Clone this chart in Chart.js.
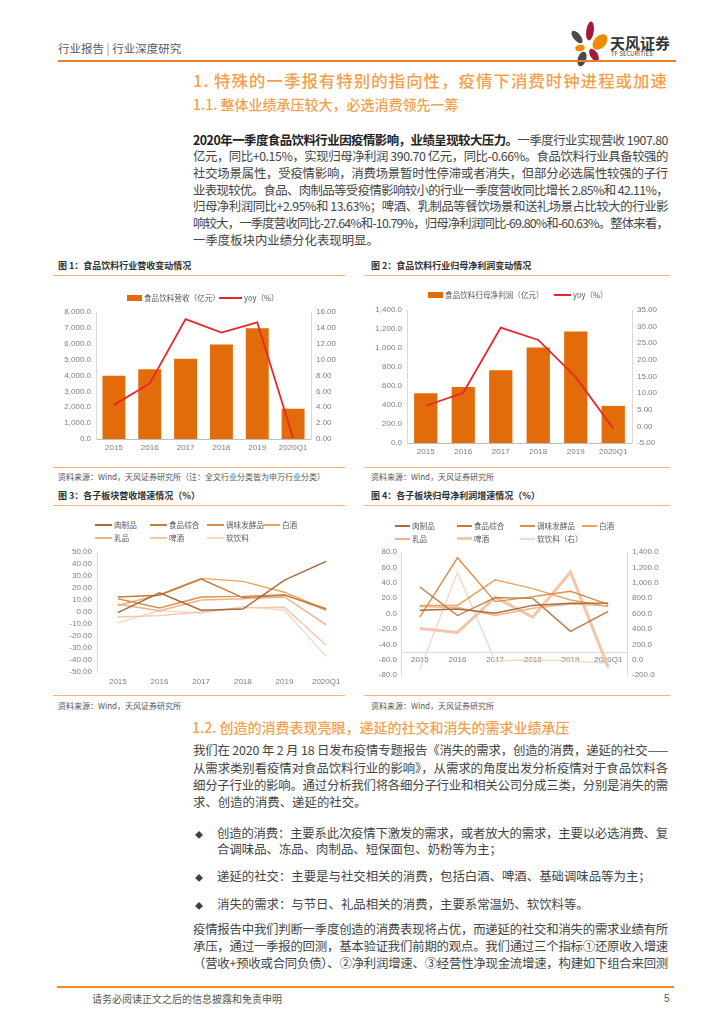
<!DOCTYPE html>
<html>
<head>
<meta charset="utf-8">
<script src="https://cdn.jsdelivr.net/npm/chart.js@4.4.0/dist/chart.umd.min.js"></script>
<style>
  body { margin: 0; background: #fff; }
  #page { position: relative; width: 724px; height: 1024px; overflow: hidden; background: #fff;
    font-family: "Noto Sans CJK SC", "Noto Sans", sans-serif; color: #454545; }
  .t { position: absolute; white-space: nowrap; line-height: 1; }
  .hr { position: absolute; height: 0; }
  .para { position: absolute; font-size: 12.4px; }
  .para div { white-space: nowrap; }
  .h { color: #f4a04e; font-weight: 500; }
  .ftitle { font-size: 9px; font-weight: 700; color: #333; }
  .src { font-size: 8px; color: #555; }
  .bul { position: absolute; font-size: 8px; color: #404040; }
  canvas { position: absolute; }
  .lg { position: absolute; font-size: 7.6px; color: #595959; white-space: nowrap; line-height: 1; }
</style>
</head>
<body>
<div id="page">
  <!-- header -->
  <div class="t" style="left:58px;top:43px;font-size:11.5px;color:#5a5a5a;">行业报告 <span style="color:#999">|</span> 行业深度研究</div>
  <svg style="position:absolute;left:560px;top:15px" width="52" height="56" viewBox="560 15 52 56">
    <ellipse cx="590" cy="31" rx="3.8" ry="9.5" fill="#a3193b" transform="rotate(8 590 31)"/>
    <ellipse cx="577" cy="37" rx="3.6" ry="7.5" fill="#4a4a4a" transform="rotate(-40 577 37)"/>
    <ellipse cx="600" cy="42" rx="6" ry="9" fill="#f08a00" transform="rotate(42 600 42)"/>
    <ellipse cx="580" cy="48" rx="4.8" ry="3.2" fill="#f08a00" transform="rotate(-12 580 48)"/>
    <ellipse cx="582" cy="59" rx="4.2" ry="7.5" fill="#4a4a4a" transform="rotate(18 582 59)"/>
    <ellipse cx="594" cy="55" rx="3.7" ry="7" fill="#a3193b" transform="rotate(-32 594 55)"/>
  </svg>
  <div class="t" style="left:610px;top:35px;font-size:15px;font-weight:700;color:#333;">天风证券</div>
  <div class="t" style="left:611px;top:52px;font-size:5.5px;color:#333;letter-spacing:0.3px;">TF SECURITIES</div>
  <div class="hr" style="left:58px;top:60px;width:618px;border-top:2px solid #eb7f22;"></div>

  <!-- headings -->
  <div class="para h" style="left:193px;top:71px;width:475px;font-size:16.4px;line-height:18px;">
    <div class="jl"><span>1. 特殊的一季报有特别的指向性，疫情下消费时钟进程或加速</span></div>
  </div>
  <div class="t h" style="left:193px;top:97px;font-size:14px;">1.1. 整体业绩承压较大，必选消费领先一筹</div>

  <div class="para" style="left:193px;top:131.6px;width:475px;line-height:16.7px;">
    <div class="jl"><span><b style="color:#222">2020年一季度食品饮料行业因疫情影响，业绩呈现较大压力。</b>一季度行业实现营收 1907.80</span></div>
    <div class="jl"><span>亿元，同比+0.15%，实现归母净利润 390.70 亿元，同比-0.66%。食品饮料行业具备较强的</span></div>
    <div class="jl"><span>社交场景属性，受疫情影响，消费场景暂时性停滞或者消失，但部分必选属性较强的子行</span></div>
    <div class="jl"><span>业表现较优。食品、肉制品等受疫情影响较小的行业一季度营收同比增长 2.85%和 42.11%，</span></div>
    <div class="jl"><span>归母净利润同比+2.95%和 13.63%；啤酒、乳制品等餐饮场景和送礼场景占比较大的行业影</span></div>
    <div class="jl"><span>响较大，一季度营收同比-27.64%和-10.79%，归母净利润同比-69.80%和-60.63%。整体来看，</span></div>
    <div><span>一季度板块内业绩分化表现明显。</span></div>
  </div>

  <!-- figure 1 / 2 frames -->
  <div class="t ftitle" style="left:58px;top:261px;">图 1：食品饮料行业营收变动情况</div>
  <div class="t ftitle" style="left:371px;top:261px;">图 2：食品饮料行业归母净利润变动情况</div>
  <div class="hr" style="left:53px;top:275px;width:292px;border-top:1.5px solid #f6b27c;"></div>
  <div class="hr" style="left:364px;top:275px;width:306px;border-top:1.5px solid #f6b27c;"></div>
  <div class="hr" style="left:53px;top:467px;width:292px;border-top:1.5px solid #f6b27c;"></div>
  <div class="hr" style="left:364px;top:467px;width:306px;border-top:1.5px solid #f6b27c;"></div>
  <div class="t src" style="left:58px;top:473px;">资料来源：Wind，天风证券研究所（注：全文行业分类皆为申万行业分类）</div>
  <div class="t src" style="left:371px;top:473px;">资料来源：Wind，天风证券研究所</div>

  <!-- figure 3 / 4 frames -->
  <div class="t ftitle" style="left:58px;top:491px;">图 3：各子板块营收增速情况（%）</div>
  <div class="t ftitle" style="left:371px;top:491px;">图 4：各子板块归母净利润增速情况（%）</div>
  <div class="hr" style="left:53px;top:505px;width:292px;border-top:1.5px solid #f6b27c;"></div>
  <div class="hr" style="left:364px;top:505px;width:306px;border-top:1.5px solid #f6b27c;"></div>
  <div class="hr" style="left:53px;top:695px;width:292px;border-top:1.5px solid #f6b27c;"></div>
  <div class="hr" style="left:364px;top:695px;width:306px;border-top:1.5px solid #f6b27c;"></div>
  <div class="t src" style="left:58px;top:702px;">资料来源：Wind，天风证券研究所</div>
  <div class="t src" style="left:371px;top:702px;">资料来源：Wind，天风证券研究所</div>

  <canvas id="c1" width="315" height="155" style="left:40px;top:302px"></canvas>
  <canvas id="c2" width="315" height="161" style="left:357px;top:300px"></canvas>
  <canvas id="c3" width="315" height="148" style="left:40px;top:542px"></canvas>
  <canvas id="c4" width="312" height="143" style="left:357px;top:542px"></canvas>
  <div id="legends"></div>

  <!-- section 1.2 -->
  <div class="t h" style="left:192px;top:720px;font-size:14px;">1.2. 创造的消费表现亮眼，递延的社交和消失的需求业绩承压</div>
  <div class="para" style="left:193px;top:742.4px;width:475px;line-height:17.3px;">
    <div class="jl"><span>我们在 2020 年 2 月 18 日发布疫情专题报告《消失的需求，创造的消费，递延的社交——</span></div>
    <div class="jl"><span>从需求类别看疫情对食品饮料行业的影响》，从需求的角度出发分析疫情对于食品饮料各</span></div>
    <div class="jl"><span>细分子行业的影响。通过分析我们将各细分子行业和相关公司分成三类，分别是消失的需</span></div>
    <div><span>求、创造的消费、递延的社交。</span></div>
  </div>

  <div class="bul" style="left:195px;top:829px;">◆</div>
  <div class="para" style="left:217px;top:824.8px;width:451px;line-height:16.4px;">
    <div class="jl"><span>创造的消费：主要系此次疫情下激发的需求，或者放大的需求，主要以必选消费、复</span></div>
    <div><span>合调味品、冻品、肉制品、短保面包、奶粉等为主；</span></div>
  </div>
  <div class="bul" style="left:195px;top:872px;">◆</div>
  <div class="para" style="left:217px;top:868px;width:451px;line-height:16.4px;">
    <div><span>递延的社交：主要是与社交相关的消费，包括白酒、啤酒、基础调味品等为主；</span></div>
  </div>
  <div class="bul" style="left:195px;top:900px;">◆</div>
  <div class="para" style="left:217px;top:896px;width:451px;line-height:16.4px;">
    <div><span>消失的需求：与节日、礼品相关的消费，主要系常温奶、软饮料等。</span></div>
  </div>

  <div class="para" style="left:193px;top:920.5px;width:475px;line-height:17px;">
    <div class="jl"><span>疫情报告中我们判断一季度创造的消费表现将占优，而递延的社交和消失的需求业绩有所</span></div>
    <div class="jl"><span>承压，通过一季报的回测，基本验证我们前期的观点。我们通过三个指标①还原收入增速</span></div>
    <div class="jl"><span>（营收+预收或合同负债）、②净利润增速、③经营性净现金流增速，构建如下组合来回测</span></div>
  </div>

  <!-- footer -->
  <div class="hr" style="left:57px;top:986px;width:617px;border-top:2px solid #eb8a22;"></div>
  <div class="t" style="left:92px;top:994px;font-size:10px;color:#555;">请务必阅读正文之后的信息披露和免责申明</div>
  <div class="t" style="left:664px;top:994px;font-size:10px;color:#555;font-family:'Liberation Sans',Arial,sans-serif;">5</div>
</div>

<script>
// data
const years = ["2015", "2016", "2017", "2018", "2019", "2020Q1"];

// figure 1: revenue (100m yuan) and yoy (%)
const revenue = [3990, 4400, 5060, 5960, 6970, 1907.8];
const revenueYoy = [4.3, 7.0, 15.1, 13.4, 14.7, 0.15];

// figure 2: net profit attributable (100m yuan) and yoy (%)
const profit = [525, 590, 765, 1005, 1175, 390.7];
const profitYoy = [6.2, 10.1, 29.7, 26.0, 14.8, -0.66];

// sub-sectors
const sectors = ["肉制品", "食品综合", "调味发酵品", "白酒", "乳品", "啤酒", "软饮料"];
const sectorColors = ["#a66a3c", "#c27a3e", "#dc8f4c", "#eaa45d", "#eeb38a", "#f3c6a8", "#f6d8c6"];

// figure 3: revenue growth (%)
const revMeat = [-0.5, 16, 1.5, 2.5, 26.5, 42.11];
const revFood = [12.5, 14, 27.5, 12, 14, 2.85];
const revSeason = [11, 3.4, 12.5, 13, 14.5, 1.5];
const revLiquor = [5.5, 14.5, 28, 25.5, 16.5, 2];
const revDairy = [6.5, 1, 10, 11, 12.5, -10.79];
const revBeer = [-4.2, -3, 0, 3.4, 4, -27.64];
const revSoft = [-9, 1, -0.8, 4.5, 1.5, -37];

// figure 4: net profit growth (%), soft drinks on right axis
const profMeat = [4.3, 6, 0.5, 10.6, 13.5, 13.63];
const profFood = [34.6, -2.5, 20.7, 19.8, -23, 2.95];
const profSeason = [-4.6, 72.5, 15.6, 22, 29, 12];
const profLiquor = [10.6, 10.6, 43.8, 32.4, 17.7, 9.3];
const profDairy = [9, 8, -2.5, 7, 12.5, 10];
const profBeer = [-19.3, -24.4, 21, -4.6, 54, -69.8];
const profSoft = [-130, 1135, -15, 0, -15, -45];

// justify text lines to their box width
document.querySelectorAll('.jl').forEach(function (el) {
  const span = el.firstElementChild;
  const target = el.clientWidth;
  const natural = span.getBoundingClientRect().width;
  const n = span.textContent.length;
  el.style.letterSpacing = ((target - natural) / n) + 'px';
});

Chart.defaults.font.family = '"Liberation Sans", Arial, sans-serif';
Chart.defaults.font.size = 8;
Chart.defaults.color = '#7f7f7f';

const fmt = d => v => Number(v).toLocaleString('en-US', { minimumFractionDigits: d, maximumFractionDigits: d });
const noGrid = { display: false, drawTicks: false };
const basePlugins = { legend: { display: false }, tooltip: { enabled: false } };

// figure 1
new Chart(document.getElementById('c1'), {
  type: 'bar',
  data: {
    labels: years,
    datasets: [
      { type: 'line', data: revenueYoy, yAxisID: 'y1', borderColor: '#e8262a', borderWidth: 1.8, pointRadius: 0, order: 0 },
      { type: 'bar', data: revenue, yAxisID: 'y', backgroundColor: '#e36c0a', categoryPercentage: 0.64, barPercentage: 1, order: 1 }
    ]
  },
  options: {
    responsive: false, animation: false, plugins: basePlugins,
    layout: { padding: { top: 10 } },
    scales: {
      x: { grid: noGrid, border: { color: '#bfbfbf' }, ticks: { padding: 4 }, afterFit: s => { s.height = 18; } },
      y: { position: 'left', min: 0, max: 8000, grid: noGrid, border: { color: '#d9d9d9' },
        ticks: { stepSize: 1000, autoSkip: false, callback: fmt(1), padding: 5 }, afterFit: s => { s.width = 56; } },
      y1: { position: 'right', min: 0, max: 16, grid: noGrid, border: { color: '#d9d9d9' },
        ticks: { stepSize: 2, autoSkip: false, callback: fmt(2), padding: 5 }, afterFit: s => { s.width = 44; } }
    }
  }
});

// figure 2
new Chart(document.getElementById('c2'), {
  type: 'bar',
  data: {
    labels: years,
    datasets: [
      { type: 'line', data: profitYoy, yAxisID: 'y1', borderColor: '#e8262a', borderWidth: 1.8, pointRadius: 0, order: 0 },
      { type: 'bar', data: profit, yAxisID: 'y', backgroundColor: '#e36c0a', categoryPercentage: 0.62, barPercentage: 1, order: 1 }
    ]
  },
  options: {
    responsive: false, animation: false, plugins: basePlugins,
    layout: { padding: { top: 10 } },
    scales: {
      x: { grid: noGrid, border: { color: '#bfbfbf' }, ticks: { padding: 4 }, afterFit: s => { s.height = 18; } },
      y: { position: 'left', min: 0, max: 1400, grid: noGrid, border: { color: '#d9d9d9' },
        ticks: { stepSize: 200, autoSkip: false, callback: fmt(1), padding: 5 }, afterFit: s => { s.width = 50; } },
      y1: { position: 'right', min: -5, max: 35, grid: noGrid, border: { color: '#d9d9d9' },
        ticks: { stepSize: 5, autoSkip: false, callback: fmt(2), padding: 5 }, afterFit: s => { s.width = 40; } }
    }
  }
});

// figure 3
const revSeries = [revMeat, revFood, revSeason, revLiquor, revDairy, revBeer, revSoft];
new Chart(document.getElementById('c3'), {
  type: 'line',
  data: {
    labels: years,
    datasets: revSeries.map((d, i) => ({
      label: sectors[i], data: d, borderColor: sectorColors[i], borderWidth: 1.4, pointRadius: 0, order: i
    }))
  },
  options: {
    responsive: false, animation: false, plugins: basePlugins,
    layout: { padding: { top: 10, right: 8 } },
    scales: {
      x: { offset: true, grid: { display: false, drawTicks: false, offset: true }, border: { display: false },
        ticks: { padding: 5 }, afterFit: s => { s.height = 18; } },
      y: { min: -50, max: 50, grid: noGrid, border: { color: '#d9d9d9' },
        ticks: { stepSize: 10, autoSkip: false, callback: fmt(2), padding: 5 }, afterFit: s => { s.width = 57; } }
    }
  }
});

// figure 4
const profSeries = [profMeat, profFood, profSeason, profLiquor, profDairy, profBeer, profSoft];
new Chart(document.getElementById('c4'), {
  type: 'line',
  data: {
    labels: years,
    datasets: profSeries.map((d, i) => ({
      label: sectors[i], data: d, borderColor: sectorColors[i],
      borderWidth: i === 5 ? 3 : 1.4, pointRadius: 0, order: i,
      yAxisID: i === 6 ? 'y1' : 'y'
    }))
  },
  options: {
    responsive: false, animation: false, plugins: basePlugins,
    layout: { padding: { top: 10, bottom: 6 } },
    scales: {
      x: { position: { y: -50 }, offset: true, grid: { display: false, drawTicks: false, offset: true },
        border: { color: '#d9d9d9' }, ticks: { padding: 3 } },
      y: { position: 'left', min: -80, max: 80, grid: noGrid, border: { color: '#d9d9d9' },
        ticks: { stepSize: 20, autoSkip: false, callback: fmt(1), padding: 4 }, afterFit: s => { s.width = 44; } },
      y1: { position: 'right', min: -200, max: 1400, grid: noGrid, border: { color: '#d9d9d9' },
        ticks: { stepSize: 200, autoSkip: false, callback: fmt(1), padding: 5 }, afterFit: s => { s.width = 42; } }
    }
  }
});

// html legends
const lg = document.getElementById('legends');
function addItem(x, y, sample, label) {
  const d = document.createElement('div');
  d.className = 'lg';
  d.style.left = x + 'px';
  d.style.top = (y - 4) + 'px';
  d.innerHTML = sample + '<span style="vertical-align:middle">' + label + '</span>';
  lg.appendChild(d);
}
const lineSample = (w, c, h) => '<span style="display:inline-block;vertical-align:middle;width:' + w + 'px;height:' + h +
  'px;background:' + c + ';margin-right:2px"></span>';
const barSample = '<span style="display:inline-block;vertical-align:middle;width:15px;height:6px;background:#e36c0a;margin-right:2px"></span>';

addItem(127, 297, barSample, '食品饮料营收（亿元）');
addItem(219, 297, lineSample(23, '#e8262a', 2), 'yoy（%）');
addItem(428, 294, barSample, '食品饮料归母净利润（亿元）');
addItem(554, 294, lineSample(17, '#e8262a', 2), 'yoy（%）');

const cols3 = [95, 150, 207, 263];
const cols4 = [395, 457, 520, 582];
sectors.forEach((name, i) => {
  const r = Math.floor(i / 4), c = i % 4;
  addItem(cols3[c], 524 + r * 13, lineSample(17, sectorColors[i], 2), name);
  addItem(cols4[c], 525 + r * 13, lineSample(15, sectorColors[i], i === 5 ? 3 : 2), i === 6 ? name + '（右）' : name);
});
</script>
</body>
</html>
